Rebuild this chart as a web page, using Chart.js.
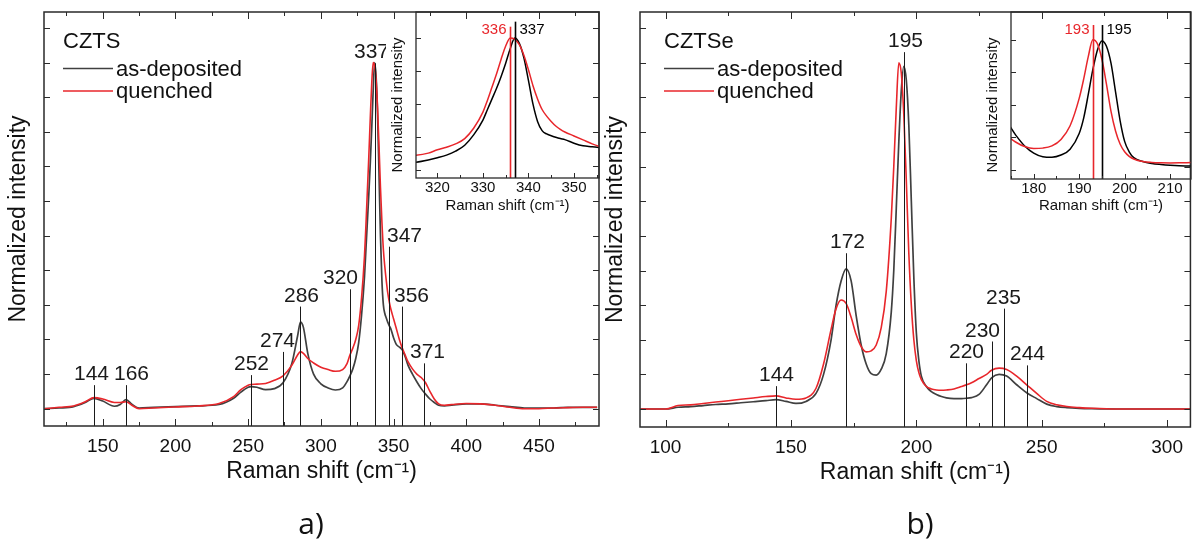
<!DOCTYPE html>
<html>
<head>
<meta charset="utf-8">
<script src="https://cdn.jsdelivr.net/npm/chart.js@4.4.1/dist/chart.umd.min.js"></script>
<style>
  body { margin: 0; background: #fff; width: 1192px; height: 539px; overflow: hidden; position: relative; }
  canvas { position: absolute; top: 0; }
  #mainA { left: 0; }
  #mainB { left: 600px; }
  #insetA { left: 380px; }
  #insetB { left: 975px; }
  .tag { position: absolute; top: 502px; line-height: 40px; font: 30px "Open Sans", sans-serif; color: #111; transform: translateX(-50%); }
</style>
</head>
<body>
<canvas id="mainA" width="600" height="539"></canvas>
<canvas id="mainB" width="592" height="539"></canvas>
<canvas id="insetA" width="220" height="225"></canvas>
<canvas id="insetB" width="217" height="225"></canvas>
<div class="tag" style="left:311px">a)</div>
<div class="tag" style="left:920px">b)</div>
<script>
// ---- CZTS (panel a) ----
const shiftA = [110,120,130,138,144,150,158,162,166,170,175,185,200,215,230,240,245,250,252,256,262,268,274,280,284,286,288,291,295,300,305,310,315,318,320,322,324,326,328,330,331,332,333,334,335,336,337,338,339,340,341,342,343,344,345,346,347,348,350,352,354,356,358,360,363,366,369,372,375,378,381,385,390,400,410,420,430,440,450,460,470,480,490];
const depositedA = [0,0.002,0.006,0.018,0.03,0.022,0.007,0.012,0.026,0.013,0.002,0.004,0.006,0.008,0.012,0.03,0.048,0.062,0.064,0.062,0.055,0.058,0.075,0.13,0.21,0.25,0.235,0.16,0.1,0.072,0.06,0.054,0.06,0.078,0.095,0.115,0.145,0.19,0.27,0.38,0.46,0.54,0.62,0.71,0.81,0.92,1.0,0.96,0.85,0.68,0.5,0.37,0.3,0.275,0.262,0.25,0.24,0.232,0.205,0.185,0.178,0.17,0.15,0.125,0.1,0.078,0.058,0.042,0.028,0.018,0.01,0.008,0.01,0.014,0.014,0.01,0.006,0.002,0.002,0.002,0.004,0.004,0.004];
const quenchedA = [0,0.004,0.008,0.02,0.032,0.028,0.018,0.018,0.02,0.01,0,0.002,0.005,0.008,0.015,0.035,0.055,0.068,0.07,0.071,0.073,0.082,0.095,0.125,0.155,0.165,0.16,0.145,0.132,0.12,0.113,0.108,0.113,0.13,0.155,0.175,0.2,0.24,0.32,0.44,0.53,0.63,0.73,0.84,0.94,1.0,0.99,0.95,0.87,0.76,0.64,0.54,0.46,0.41,0.37,0.335,0.31,0.29,0.26,0.23,0.2,0.175,0.155,0.135,0.115,0.1,0.09,0.075,0.05,0.028,0.014,0.01,0.012,0.015,0.014,0.01,0.004,0,0,0.002,0.003,0.004,0.004];
const peaksA = [144,166,252,274,286,320,337,347,356,371];
const peakTopsA = [0.068,0.068,0.097,0.164,0.295,0.345,0.998,0.468,0.295,0.131];
const xTicksA = [150,200,250,300,350,400,450];
const insetTicksA = [320,330,340,350];
const insetPeaksA = [336,337];
const insetTopsA = [1.086,1.124];

// ---- CZTSe (panel b) ----
const shiftB = [90,95,100,105,110,115,120,125,130,135,140,144,148,152,156,160,163,166,168,170,172,174,176,178,180,182,184,186,188,190,191,192,193,194,195,196,197,198,199,200,201,202,204,206,208,210,212,215,218,220,222,225,228,230,233,236,240,244,248,252,256,260,265,270,280,290,300,310];
const depositedB = [0,0,0,0.005,0.007,0.01,0.013,0.015,0.018,0.021,0.024,0.027,0.022,0.016,0.022,0.045,0.1,0.2,0.3,0.37,0.405,0.37,0.27,0.185,0.13,0.102,0.098,0.115,0.16,0.28,0.4,0.58,0.77,0.92,0.99,0.95,0.82,0.6,0.38,0.22,0.14,0.095,0.065,0.05,0.042,0.036,0.032,0.03,0.03,0.031,0.033,0.042,0.07,0.09,0.1,0.095,0.07,0.047,0.03,0.014,0.007,0.004,0.002,0.001,0,0,0,0];
const quenchedB = [0,0,0,0.01,0.012,0.016,0.02,0.024,0.028,0.032,0.036,0.038,0.032,0.028,0.032,0.06,0.13,0.23,0.29,0.315,0.305,0.265,0.215,0.18,0.165,0.168,0.185,0.235,0.34,0.55,0.7,0.87,1.0,0.97,0.85,0.66,0.45,0.3,0.2,0.14,0.105,0.085,0.065,0.058,0.055,0.054,0.055,0.058,0.065,0.07,0.076,0.088,0.1,0.112,0.118,0.114,0.095,0.07,0.045,0.022,0.012,0.007,0.004,0.002,0,0,0,0];
const peaksB = [144,172,195,220,230,235,244];
const peakTopsB = [0.066,0.45,1.031,0.132,0.195,0.29,0.126];
const xTicksB = [100,150,200,250,300];
const insetTicksB = [180,190,200,210];
const insetPeaksB = [193,195];
const insetTopsB = [1.113,1.113];

const yTicksMain = [0,0.1,0.2,0.3,0.4,0.5,0.6,0.7,0.8,0.9,1.0,1.1];
const yTicksInset = [0,0.25,0.5,0.75,1.0];

const FONT = '"Liberation Sans", Arial, sans-serif';
const GREY = '#404040';
const RED = '#e8262b';
const INK = '#111';
Chart.defaults.font.family = FONT;

function lineSet(label, xs, ys, color, width) {
    return {
        label: label,
        data: xs.map((v, i) => ({x: v, y: ys[i]})),
        borderColor: color,
        borderWidth: width,
        pointRadius: 0,
        fill: false,
        cubicInterpolationMode: 'monotone'
    };
}

// frame, inward ticks, peak markers, legend
const decor = {
    id: 'decor',
    beforeDraw(chart, args, o) {
        if (!o.whiteBox) return;
        const a = chart.chartArea, ctx = chart.ctx;
        ctx.save();
        ctx.fillStyle = '#fff';
        ctx.fillRect(a.left - 30, a.top + 8, a.right - a.left + 22, a.bottom - a.top + 36);
        ctx.restore();
    },
    afterDatasetsDraw(chart, args, o) {
        const {ctx, chartArea: a, scales: {x, y}} = chart;
        ctx.save();
        // peak markers
        o.peaks.forEach((p, i) => {
            const px = Math.round(x.getPixelForValue(p)) + 0.5;
            const top = y.getPixelForValue(o.tops[i]);
            const col = o.markColors ? o.markColors[i] : '#1a1a1a';
            ctx.strokeStyle = col;
            ctx.lineWidth = o.markWidth;
            ctx.beginPath();
            ctx.moveTo(px, a.bottom);
            ctx.lineTo(px, top);
            ctx.stroke();
            ctx.fillStyle = col;
            ctx.font = o.labelFont;
            ctx.textAlign = o.labelAlign ? o.labelAlign[i] : 'center';
            if (o.labelY) {
                ctx.textBaseline = 'middle';
                ctx.fillText(String(p), px + o.nudge[i], o.labelY);
            } else {
                ctx.textBaseline = 'alphabetic';
                ctx.fillText(String(p), px + o.nudge[i], top - 5);
            }
        });
        // frame
        ctx.strokeStyle = '#2a2a2a';
        ctx.lineWidth = o.frameWidth;
        ctx.strokeRect(a.left, a.top, a.right - a.left, a.bottom - a.top);
        // ticks
        ctx.lineWidth = 1;
        const majors = x.ticks.map(t => t.value);
        const step = majors[1] - majors[0];
        const minors = [];
        for (let v = majors[0] - step / 2; v <= x.max; v += step) {
            if (v >= x.min) minors.push(v);
        }
        const vtick = (v, len) => {
            const px = Math.round(x.getPixelForValue(v)) + 0.5;
            ctx.beginPath();
            ctx.moveTo(px, a.bottom); ctx.lineTo(px, a.bottom - len);
            if (o.allSides) { ctx.moveTo(px, a.top); ctx.lineTo(px, a.top + len); }
            ctx.stroke();
        };
        majors.forEach(v => vtick(v, o.majorLen));
        minors.forEach(v => vtick(v, o.minorLen));
        o.yTicks.forEach(v => {
            const py = Math.round(y.getPixelForValue(v)) + 0.5;
            ctx.beginPath();
            ctx.moveTo(a.left, py); ctx.lineTo(a.left + o.yLen, py);
            if (o.allSides) { ctx.moveTo(a.right, py); ctx.lineTo(a.right - o.yLen, py); }
            ctx.stroke();
        });
        // legend
        if (o.legend) {
            const L = o.legend;
            ctx.font = '22px ' + FONT;
            ctx.fillStyle = INK;
            ctx.textAlign = 'left';
            ctx.textBaseline = 'middle';
            ctx.fillText(L.title, L.x, L.y0);
            L.order.forEach((di, k) => {
                const ds = chart.data.datasets[di];
                const yy = L.y1 + k * L.dy;
                ctx.strokeStyle = ds.borderColor;
                ctx.lineWidth = ds.borderWidth;
                ctx.beginPath();
                ctx.moveTo(L.x, yy); ctx.lineTo(L.x + 50, yy);
                ctx.stroke();
                ctx.fillStyle = INK;
                ctx.fillText(ds.label, L.x + 53, yy + 1);
            });
        }
        // inset y title
        if (o.yTitle) {
            ctx.translate(a.left - 18, o.yTitle.y);
            ctx.rotate(-Math.PI / 2);
            ctx.font = '15px ' + FONT;
            ctx.fillStyle = INK;
            ctx.textAlign = 'center';
            ctx.textBaseline = 'middle';
            ctx.fillText(o.yTitle.text, 0, 0);
        }
        ctx.restore();
    }
};

function buildMain(id, p) {
    return new Chart(document.getElementById(id), {
        type: 'line',
        data: {
            datasets: [
                lineSet('quenched', p.shift, p.que, RED, 1.6),
                lineSet('as-deposited', p.shift, p.dep, GREY, 1.7)
            ]
        },
        options: {
            responsive: false,
            animation: false,
            devicePixelRatio: 1,
            layout: {padding: {top: 12, right: 1, left: 0, bottom: 0}},
            plugins: {
                legend: {display: false},
                tooltip: {enabled: false},
                decor: {
                    peaks: p.peaks, tops: p.tops, nudge: p.nudge, markWidth: 1,
                    labelFont: '21px ' + FONT, frameWidth: 1.5,
                    majorLen: 7, minorLen: 4, yLen: 6, yTicks: yTicksMain, allSides: true,
                    legend: {title: p.name, x: p.legendX, y0: 42, y1: 68.5, dy: 22.5, order: [1, 0]}
                }
            },
            scales: {
                x: {
                    type: 'linear', min: p.xMin, max: p.xMax,
                    afterBuildTicks: s => { s.ticks = p.xTicks.map(v => ({value: v})); },
                    afterFit: s => { s.height = p.xH; },
                    grid: {display: false, drawTicks: false},
                    border: {display: false},
                    ticks: {font: {size: 19}, color: INK, padding: 9, maxRotation: 0, autoSkip: false},
                    title: {display: true, text: 'Raman shift (cm⁻¹)', font: {size: 23}, color: INK,
                            padding: {top: 0, bottom: p.xTitlePad}}
                },
                y: {
                    type: 'linear', min: p.yMin, max: p.yMax,
                    afterFit: s => { s.width = p.yW; },
                    grid: {display: false, drawTicks: false},
                    border: {display: false},
                    ticks: {display: false},
                    title: {display: true, text: 'Normalized intensity', font: {size: 23}, color: INK,
                            padding: {top: p.yTitlePad, bottom: 0}}
                }
            }
        },
        plugins: [decor]
    });
}

function buildInset(id, p) {
    return new Chart(document.getElementById(id), {
        type: 'line',
        data: {
            datasets: [
                lineSet('quenched', p.shift, p.que, RED, 1.5),
                lineSet('as-deposited', p.shift, p.dep, '#000', 1.5)
            ]
        },
        options: {
            responsive: false,
            animation: false,
            devicePixelRatio: 1,
            layout: {padding: {top: 12, right: 1, left: 0, bottom: 0}},
            plugins: {
                legend: {display: false},
                tooltip: {enabled: false},
                decor: {
                    whiteBox: true,
                    peaks: p.peaks, tops: p.tops, nudge: [-4, 4], labelAlign: ['right', 'left'],
                    markColors: [RED, '#000'], markWidth: 1.6, labelY: 30,
                    labelFont: '15px ' + FONT, frameWidth: 1.3,
                    majorLen: 5, minorLen: 3, yLen: 5, yTicks: yTicksInset, allSides: false,
                    yTitle: {text: 'Normalized intensity', y: 105}
                }
            },
            scales: {
                x: {
                    type: 'linear', min: p.xMin, max: p.xMax,
                    afterBuildTicks: s => { s.ticks = p.xTicks.map(v => ({value: v})); },
                    afterFit: s => { s.height = p.xH; },
                    grid: {display: false, drawTicks: false},
                    border: {display: false},
                    ticks: {font: {size: 15}, color: INK, padding: 1, maxRotation: 0, autoSkip: false},
                    title: {display: true, text: 'Raman shift (cm⁻¹)', font: {size: 15}, color: INK,
                            padding: {top: 0, bottom: 10}}
                },
                y: {
                    type: 'linear', min: p.yMin, max: p.yMax,
                    afterFit: s => { s.width = 36; },
                    grid: {display: false, drawTicks: false},
                    border: {display: false},
                    ticks: {display: false}
                }
            }
        },
        plugins: [decor]
    });
}

buildMain('mainA', {
    name: 'CZTS', shift: shiftA, dep: depositedA, que: quenchedA,
    peaks: peaksA, tops: peakTopsA, nudge: [-3, 5, 0, -6, 1, -10, -4, 15, 9, 3],
    xTicks: xTicksA, xMin: 109.6, xMax: 491.3, yMin: -0.05, yMax: 1.146,
    xH: 113, yW: 44, xTitlePad: 54, yTitlePad: 5, legendX: 63
});
buildMain('mainB', {
    name: 'CZTSe', shift: shiftB, dep: depositedB, que: quenchedB,
    peaks: peaksB, tops: peakTopsB, nudge: [0, 1, 1, 0, -10, -1, 0],
    xTicks: xTicksB, xMin: 89.8, xMax: 309.3, yMin: -0.052, yMax: 1.147,
    xH: 112, yW: 40, xTitlePad: 53, yTitlePad: 2, legendX: 64
});
buildInset('insetA', {
    shift: shiftA, dep: depositedA, que: quenchedA,
    peaks: insetPeaksA, tops: insetTopsA, xTicks: insetTicksA,
    xMin: 315.3, xMax: 355.5, yMin: -0.058, yMax: 1.197, xH: 47
});
buildInset('insetB', {
    shift: shiftB, dep: depositedB, que: quenchedB,
    peaks: insetPeaksB, tops: insetTopsB, xTicks: insetTicksB,
    xMin: 175, xMax: 214.6, yMin: -0.069, yMax: 1.213, xH: 46
});
</script>
</body>
</html>
